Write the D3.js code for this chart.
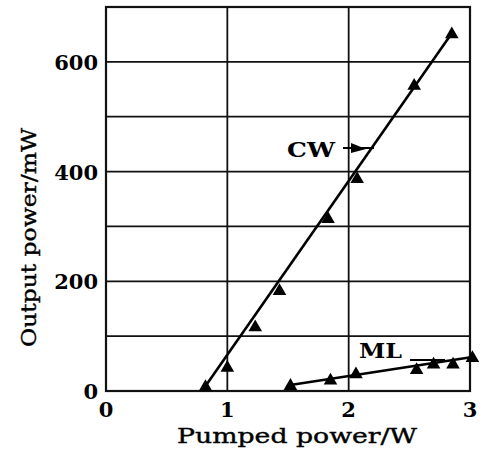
<!DOCTYPE html>
<html>
<head>
<meta charset="utf-8">
<script src="https://cdn.jsdelivr.net/npm/d3@7"></script>
<style>
  body { margin: 0; background: #fff; }
</style>
</head>
<body>
<div id="chart"></div>
<script>
// data
const cwPump = [0.82, 1.0, 1.23, 1.43, 1.83, 2.07, 2.54, 2.85];
const cwOut = [9, 44, 118, 184, 315, 388, 558, 652];
const mlPump = [1.52, 1.85, 2.06, 2.56, 2.70, 2.86, 3.02];
const mlOut = [11, 21, 32, 40, 50, 50, 62];
const xTicks = [0, 1, 2, 3];
const yTicks = [0, 200, 400, 600];
const yGrid = [100, 200, 300, 400, 500, 600];

const width = 494, height = 450;
const margin = { left: 106, right: 24, top: 7, bottom: 59 };

const svg = d3.select("#chart")
  .append("svg")
  .attr("width", width)
  .attr("height", height);

const x = d3.scaleLinear().domain([0, 3]).range([margin.left, width - margin.right]);
const y = d3.scaleLinear().domain([0, 700]).range([height - margin.bottom, margin.top]);

const cw = cwPump.map((p, i) => ({ p: p, o: cwOut[i] }));
const ml = mlPump.map((p, i) => ({ p: p, o: mlOut[i] }));

// grid
svg.append("g")
  .selectAll("line")
  .data(yGrid)
  .join("line")
  .attr("x1", x(0)).attr("x2", x(3))
  .attr("y1", d => y(d)).attr("y2", d => y(d))
  .attr("stroke", "#111").attr("stroke-width", 1.8);

svg.append("g")
  .selectAll("line")
  .data([1, 2])
  .join("line")
  .attr("x1", d => x(d)).attr("x2", d => x(d))
  .attr("y1", y(0)).attr("y2", y(700))
  .attr("stroke", "#111").attr("stroke-width", 1.8);

// frame
svg.append("rect")
  .attr("x", x(0)).attr("y", y(700))
  .attr("width", x(3) - x(0)).attr("height", y(0) - y(700))
  .attr("fill", "none").attr("stroke", "#111").attr("stroke-width", 2.2);

// tick labels
svg.append("g")
  .attr("font-family", "DejaVu Serif")
  .attr("font-weight", "bold")
  .attr("font-size", 21)
  .attr("text-anchor", "middle")
  .selectAll("text")
  .data(xTicks)
  .join("text")
  .attr("x", d => x(d))
  .attr("y", 417)
  .text(d => d);

svg.append("g")
  .attr("font-family", "DejaVu Serif")
  .attr("font-weight", "bold")
  .attr("font-size", 21)
  .attr("text-anchor", "end")
  .selectAll("text")
  .data(yTicks)
  .join("text")
  .attr("x", 98)
  .attr("y", d => y(d) + 8)
  .text(d => d);

// axis titles
svg.append("text")
  .attr("x", 177).attr("y", 443)
  .attr("font-family", "DejaVu Serif")
  .attr("font-size", 21)
  .attr("textLength", 240)
  .attr("lengthAdjust", "spacingAndGlyphs")
  .attr("stroke", "#000").attr("stroke-width", 0.4)
  .text("Pumped power/W");

svg.append("text")
  .attr("transform", "translate(36,347) rotate(-90)")
  .attr("font-family", "DejaVu Serif")
  .attr("font-size", 21)
  .attr("textLength", 219)
  .attr("lengthAdjust", "spacingAndGlyphs")
  .attr("stroke", "#000").attr("stroke-width", 0.4)
  .text("Output power/mW");

// straight lines through first and last points, then the points
const tri = d3.symbol().type(d3.symbolTriangle).size(80);

[cw, ml].forEach(pts => {
  const a = pts[0], b = pts[pts.length - 1];
  const slope = (b.o - a.o) / (b.p - a.p);
  const x0 = Math.min(a.p, Math.max(a.p - a.o / slope, 0));
  const start = pts === cw ? x0 : a.p;
  svg.append("line")
    .attr("x1", x(start)).attr("y1", y(a.o + slope * (start - a.p)))
    .attr("x2", x(b.p)).attr("y2", y(b.o))
    .attr("stroke", "#000").attr("stroke-width", 2.6);
  svg.append("g")
    .selectAll("path")
    .data(pts)
    .join("path")
    .attr("transform", d => `translate(${x(d.p)},${y(d.o) + 1})`)
    .attr("d", tri)
    .attr("fill", "#000");
});

// curve labels
svg.append("text")
  .attr("x", 287).attr("y", 157)
  .attr("font-family", "DejaVu Serif").attr("font-weight", "bold").attr("font-size", 21)
  .attr("textLength", 48).attr("lengthAdjust", "spacingAndGlyphs")
  .text("CW");
svg.append("line")
  .attr("x1", 343).attr("y1", 148).attr("x2", 374).attr("y2", 148)
  .attr("stroke", "#000").attr("stroke-width", 2);
svg.append("path")
  .attr("d", "M351,143 L366,149 L351,153 Z")
  .attr("fill", "#000");

svg.append("text")
  .attr("x", 359).attr("y", 358)
  .attr("font-family", "DejaVu Serif").attr("font-weight", "bold").attr("font-size", 21)
  .attr("textLength", 43).attr("lengthAdjust", "spacingAndGlyphs")
  .text("ML");
svg.append("line")
  .attr("x1", 410).attr("y1", 360).attr("x2", 445).attr("y2", 360)
  .attr("stroke", "#000").attr("stroke-width", 2);
</script>
</body>
</html>
